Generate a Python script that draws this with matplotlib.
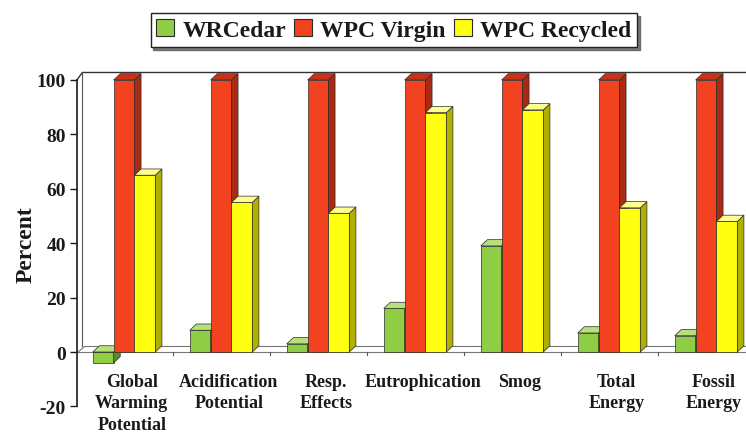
import matplotlib
matplotlib.use('Agg')
import matplotlib.pyplot as plt
from matplotlib.patches import Polygon, Patch
import numpy as np

plt.rcParams['font.family'] = ['Liberation Serif', 'DejaVu Serif']
plt.rcParams['font.weight'] = 'bold'

# ------------------------------------------------------------------
# Data
# ------------------------------------------------------------------
categories = ['Global\nWarming\nPotential', 'Acidification\nPotential',
              'Resp.\nEffects', 'Eutrophication', 'Smog',
              'Total\nEnergy', 'Fossil\nEnergy']
series_names = ['WRCedar', 'WPC Virgin', 'WPC Recycled']
wrcedar = [-4, 8, 3, 16, 39, 7, 6]
wpc_virgin = [100, 100, 100, 100, 100, 100, 100]
wpc_recycled = [65, 55, 51, 88, 89, 53, 48]
y_ticks = [-20, 0, 20, 40, 60, 80, 100]

# front / side / top shades for each series
FACE = ['#8fcd45', '#f2421f', '#ffff12']
SIDE = ['#5a8f25', '#a92a14', '#b0b000']
TOP = ['#b5e07a', '#c8321a', '#ffff90']
EDGE = '#2a2a2a'

BAR_W = 0.215
DX, DY = 0.068, 2.3   # 3D depth, in data units


def draw_bar(ax, x0, val, k, z):
    """Front face plus side and top faces of one pseudo-3D bar."""
    x1 = x0 + BAR_W
    lo, hi = min(0, val), max(0, val)
    ax.bar(x0, val, width=BAR_W, align='edge', color=FACE[k],
           edgecolor=EDGE, linewidth=0.5, zorder=z, clip_on=False)
    side = [(x1, lo), (x1 + DX, lo + DY), (x1 + DX, hi + DY), (x1, hi)]
    top = [(x0, hi), (x0 + DX, hi + DY), (x1 + DX, hi + DY), (x1, hi)]
    ax.add_patch(Polygon(side, closed=True, fc=SIDE[k], ec=EDGE,
                         lw=0.5, zorder=z, clip_on=False))
    ax.add_patch(Polygon(top, closed=True, fc=TOP[k], ec=EDGE,
                         lw=0.5, zorder=z, clip_on=False))


fig = plt.figure(figsize=(7.46, 4.35), dpi=100)
ax = fig.add_axes([0.1032, 0.0634, 0.8968, 0.7504])

x = np.arange(len(categories))
x_lo, x_hi = -0.485, 6.412
ax.set_xlim(x_lo, x_hi)
ax.set_ylim(-20, 100)

# back wall edges and floor
ax.plot([x_lo, x_lo + DX * 0.8, x_hi + 0.2], [100, 100 + DY * 1.2, 100 + DY * 1.2],
        color='#333333', lw=1.0, clip_on=False, zorder=1)
ax.plot([x_lo + DX * 0.8, x_lo + DX * 0.8], [DY, 100 + DY * 1.2],
        color='#555555', lw=0.8, zorder=1, clip_on=False)
floor = [(x_lo, 0), (x_hi + 0.2, 0), (x_hi + 0.2, DY), (x_lo + DX, DY)]
ax.add_patch(Polygon(floor, closed=True, fc='white', ec='#777777',
                     lw=0.8, zorder=1, clip_on=False))
for b in x[:-1] + 0.5:
    ax.plot([b, b], [0, -1.2], color='#555555', lw=0.8, zorder=1)

values = [wrcedar, wpc_virgin, wpc_recycled]
z = 2
for i in x:
    for k, vals in enumerate(values):
        x0 = i + (k - 1) * BAR_W - BAR_W / 2
        draw_bar(ax, x0, vals[i], k, z)
        z += 1

# category labels sit just under the floor
for i, lab in zip(x, categories):
    ax.text(i + 0.08, -7.6, lab, ha='center', va='top', fontsize=13,
            fontweight='bold', linespacing=1.36, color='#1a1a1a')

ax.set_xticks([])
ax.set_yticks(y_ticks)
ax.set_yticklabels([str(t) for t in y_ticks], fontsize=14, fontweight='bold')
ax.tick_params(axis='y', direction='out', length=5, width=1, pad=3,
               colors='#1a1a1a')
for s in ('top', 'right', 'bottom'):
    ax.spines[s].set_visible(False)
ax.spines['left'].set_linewidth(1.2)
ax.spines['left'].set_color('#1a1a1a')
ax.set_ylabel('Percent', fontsize=17, fontweight='bold', labelpad=0,
              color='#1a1a1a')

handles = [Patch(facecolor=FACE[k], edgecolor=EDGE, linewidth=0.8)
           for k in range(3)]
leg = fig.legend(handles, series_names, loc='center', ncol=3,
                 bbox_to_anchor=(0.528, 0.929), frameon=True, fancybox=False,
                 edgecolor='#222222', fontsize=17, handlelength=0.75,
                 handleheight=0.75, handletextpad=0.35, columnspacing=0.35,
                 borderpad=0.25, borderaxespad=0.0,
                 shadow={'color': '0.35', 'alpha': 0.8})
leg.get_frame().set_linewidth(1.0)
for t in leg.get_texts():
    t.set_color('#1a1a1a')

fig.savefig('out.png', dpi=100, facecolor='white')
